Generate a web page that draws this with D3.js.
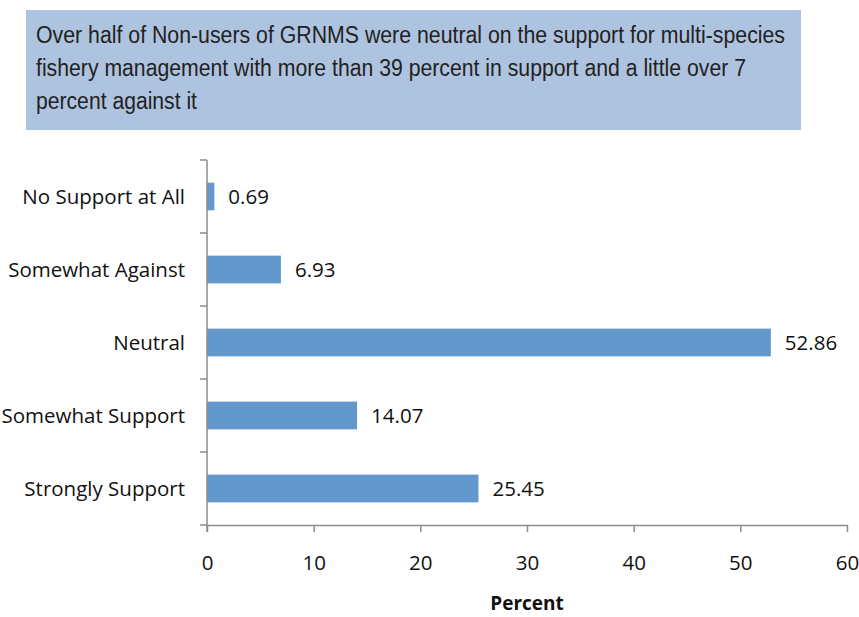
<!DOCTYPE html>
<html>
<head>
<meta charset="utf-8">
<script src="https://cdn.jsdelivr.net/npm/d3@7"></script>
<style>
  body { margin: 0; background: #fff; }
</style>
</head>
<body>
<div id="chart"></div>
<script>
// data, top to bottom
var categories = ["No Support at All", "Somewhat Against", "Neutral", "Somewhat Support", "Strongly Support"];
var percents = [0.69, 6.93, 52.86, 14.07, 25.45];
var xTicks = [0, 10, 20, 30, 40, 50, 60];
var titleLines = [
  "Over half of Non-users of GRNMS were neutral on the support for multi-species",
  "fishery management with more than 39 percent in support and a little over 7",
  "percent against it"
];

var width = 859, height = 617;
var margin = {top: 160, right: 12, bottom: 92, left: 207};

var svg = d3.select("#chart")
  .append("svg")
  .attr("width", width)
  .attr("height", height);

// title box
svg.append("rect")
  .attr("x", 26).attr("y", 10)
  .attr("width", 775).attr("height", 120)
  .attr("fill", "#aec3df");

var lineEnds = [785, 746, 197];
svg.append("g").selectAll("text")
  .data(titleLines)
  .enter()
  .append("text")
    .attr("x", 36)
    .attr("y", function (d, i) { return 43 + i * 33; })
    .attr("textLength", function (d, i) { return lineEnds[i] - 36; })
    .attr("lengthAdjust", "spacingAndGlyphs")
    .style("font-family", "'Liberation Sans', Arial, sans-serif")
    .style("font-size", "23px")
    .style("fill", "#222")
    .text(function (d) { return d; });

var x = d3.scaleLinear()
  .domain([0, 60])
  .range([margin.left, width - margin.right]);

var y = d3.scaleBand()
  .domain(categories)
  .range([margin.top, height - margin.bottom])
  .paddingInner(0.62)
  .paddingOuter(0.31);

var axisColor = "#8c8c8c";
var font = "'Open Sans', 'Noto Sans', sans-serif";
var fs = "20.5px";

// bars
svg.append("g")
  .selectAll("rect")
  .data(percents)
  .enter()
  .append("rect")
    .attr("x", x(0))
    .attr("y", function (d, i) { return y(categories[i]); })
    .attr("width", function (d) { return x(d) - x(0); })
    .attr("height", y.bandwidth())
    .attr("fill", "#6398cd");

// value labels
svg.append("g")
  .selectAll("text")
  .data(percents)
  .enter()
  .append("text")
    .attr("x", function (d) { return x(d) + 14; })
    .attr("y", function (d, i) { return y(categories[i]) + y.bandwidth() / 2; })
    .attr("dy", "0.35em")
    .style("font-family", font)
    .style("font-size", fs)
    .style("fill", "#111")
    .text(function (d) { return d.toFixed(2); });

// x axis
var xAxis = svg.append("g")
  .attr("transform", "translate(0," + (height - margin.bottom) + ")")
  .call(d3.axisBottom(x).tickValues(xTicks).tickSize(7).tickPadding(23).tickSizeOuter(0));
xAxis.select(".domain").attr("stroke", axisColor).attr("stroke-width", 1.5);
xAxis.selectAll(".tick line").attr("stroke", axisColor).attr("stroke-width", 1.5);
xAxis.selectAll(".tick text")
  .style("font-family", font)
  .style("font-size", fs)
  .style("fill", "#111");

// y axis: line plus tick marks at band boundaries
var yAxis = svg.append("g");
yAxis.append("line")
  .attr("x1", x(0)).attr("x2", x(0))
  .attr("y1", margin.top).attr("y2", height - margin.bottom + 7)
  .attr("stroke", axisColor).attr("stroke-width", 1.5);
var step = y.step();
var bounds = d3.range(categories.length + 1).map(function (i) {
  return y.range()[0] + i * step;
});
yAxis.selectAll(".bound")
  .data(bounds)
  .enter()
  .append("line")
    .attr("x1", x(0) - 7).attr("x2", x(0))
    .attr("y1", function (d) { return d; })
    .attr("y2", function (d) { return d; })
    .attr("stroke", axisColor).attr("stroke-width", 1.5);
yAxis.selectAll(".cat")
  .data(categories)
  .enter()
  .append("text")
    .attr("x", x(0) - 22)
    .attr("y", function (d) { return y(d) + y.bandwidth() / 2; })
    .attr("dy", "0.35em")
    .attr("text-anchor", "end")
    .style("font-family", font)
    .style("font-size", fs)
    .style("fill", "#111")
    .text(function (d) { return d; });

// axis title
svg.append("text")
  .attr("x", (x(0) + x(60)) / 2)
  .attr("y", 610)
  .attr("text-anchor", "middle")
  .style("font-family", font)
  .style("font-size", "19px")
  .style("font-weight", "bold")
  .style("fill", "#111")
  .text("Percent");
</script>
</body>
</html>
